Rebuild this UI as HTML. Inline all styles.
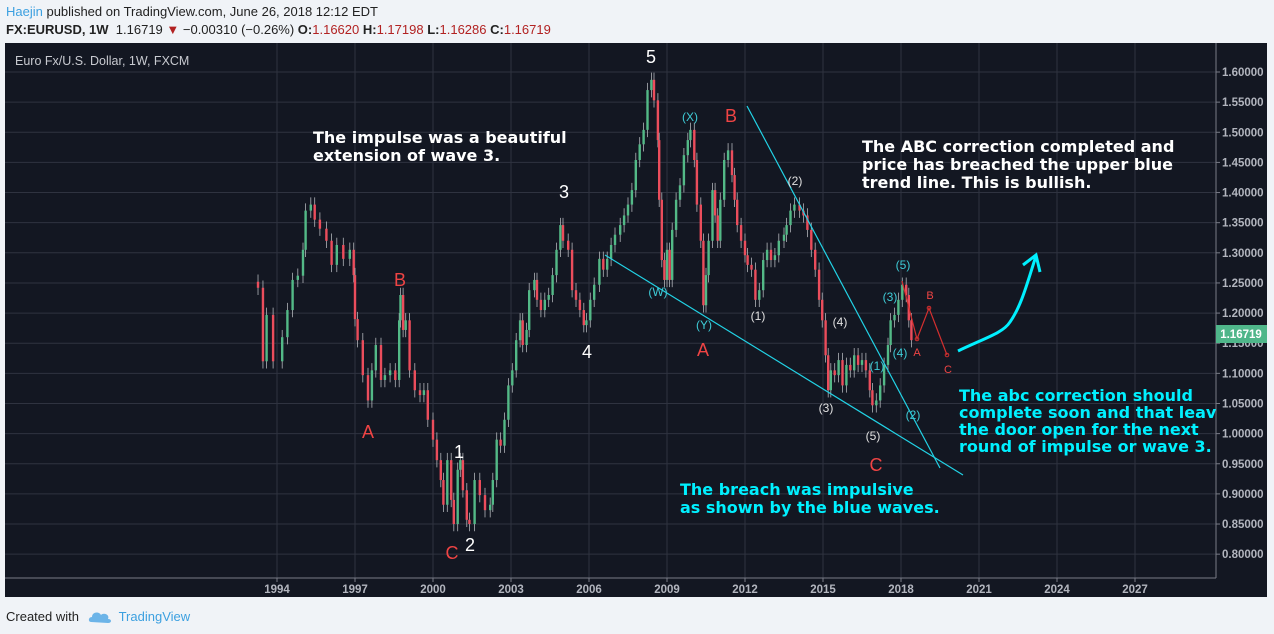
<!DOCTYPE html>
<html><head><meta charset="utf-8">
<style>
body{margin:0;width:1274px;height:634px;background:#f0f3f7;font-family:"Liberation Sans",sans-serif;overflow:hidden;position:relative}
.hdr{position:absolute;left:6px;font-size:13px;color:#222;white-space:nowrap}
.r{color:#b22222}
svg{position:absolute;left:0;top:0}
.ann{font-family:"DejaVu Sans",sans-serif;font-weight:bold;font-size:16px}
</style></head><body>
<div class="hdr" style="top:4px"><span style="color:#3ca0e0">Haejin</span> published on TradingView.com, June 26, 2018 12:12 EDT</div>
<div class="hdr" style="top:22px"><b>FX:EURUSD, 1W</b>&nbsp; 1.16719 <span class="r">▼</span> −0.00310 (−0.26%) <b>O:</b><span class="r">1.16620</span> <b>H:</b><span class="r">1.17198</span> <b>L:</b><span class="r">1.16286</span> <b>C:</b><span class="r">1.16719</span></div>
<div class="hdr" style="top:609px">Created with <span style="color:#3ca0e0;margin-left:36px">TradingView</span></div>
<svg width="1274" height="634" id="chart">
<rect x="5" y="43" width="1262" height="554" fill="#131722"/>
<g id="grid"></g><g id="candles"></g>
<line x1="1216" y1="43" x2="1216" y2="578" stroke="#787b86"/>
<line x1="5" y1="578" x2="1216" y2="578" stroke="#787b86"/>
<g id="axes" font-size="11.5" font-weight="bold" fill="#b2b5be" font-family="Liberation Sans,sans-serif"></g>
<text x="15" y="65" fill="#c8cad0" font-size="12.5">Euro Fx/U.S. Dollar, 1W, FXCM</text>
<line x1="747" y1="106" x2="940" y2="468" stroke="#22d3e6" stroke-width="1.2"/>
<line x1="605" y1="255" x2="963" y2="475" stroke="#22d3e6" stroke-width="1.2"/>
<polyline points="902,281 917,339 929,308 947,355" fill="none" stroke="#d32f2f" stroke-width="1.2"/>
<g fill="none" stroke="#d32f2f"><circle cx="917" cy="339" r="1.8"/><circle cx="929" cy="308" r="1.8"/><circle cx="947" cy="355" r="1.8"/></g>
<path d="M958,351 C985,338 1003,333 1010,322 C1022,305 1028,280 1036,256 M1023,265 L1036,255 L1040,272" fill="none" stroke="#00f0ff" stroke-width="3"/>
<g font-family="Liberation Sans,sans-serif">
<g fill="#fff" font-size="18" text-anchor="middle"><text x="651" y="63">5</text><text x="564" y="198">3</text><text x="587" y="358">4</text><text x="459" y="458">1</text><text x="470" y="551">2</text></g>
<g fill="#ef4444" font-size="18" text-anchor="middle"><text x="400" y="286">B</text><text x="368" y="438">A</text><text x="452" y="559">C</text><text x="731" y="122">B</text><text x="703" y="356">A</text><text x="876" y="471">C</text></g>
<g fill="#3ecbd6" font-size="12" text-anchor="middle"><text x="690" y="121">(X)</text><text x="658" y="296">(W)</text><text x="704" y="329">(Y)</text><text x="890" y="301">(3)</text><text x="903" y="269">(5)</text><text x="900" y="357">(4)</text><text x="877" y="370">(1)</text><text x="913" y="419">(2)</text></g>
<g fill="#e0e0e0" font-size="12" text-anchor="middle"><text x="758" y="320">(1)</text><text x="795" y="185">(2)</text><text x="840" y="326">(4)</text><text x="826" y="412">(3)</text><text x="873" y="440">(5)</text></g>
<g fill="#ef4444" font-size="11" text-anchor="middle"><text x="917" y="356">A</text><text x="930" y="299">B</text><text x="948" y="373">C</text></g>
</g>
<g class="ann" fill="#fff"><text x="313" y="143">The impulse was a beautiful</text><text x="313" y="161">extension of wave 3.</text></g>
<g class="ann" fill="#fff"><text x="862" y="152">The ABC correction completed and</text><text x="862" y="170">price has breached the upper blue</text><text x="862" y="188">trend line. This is bullish.</text></g>
<g class="ann" fill="#00f0ff"><text x="680" y="495">The breach was impulsive</text><text x="680" y="513">as shown by the blue waves.</text></g>
<svg x="0" y="0" width="1216" height="634"><g class="ann" fill="#00f0ff"><text x="959" y="401">The abc correction should</text><text x="959" y="418">complete soon and that leaves</text><text x="959" y="435">the door open for the next</text><text x="959" y="452">round of impulse or wave 3.</text></g></svg>
<rect x="1216" y="325" width="51" height="18" fill="#4fb68a"/>
<text x="1241" y="338" fill="#fff" font-size="11.5" font-weight="bold" text-anchor="middle" font-family="Liberation Sans,sans-serif">1.16719</text>
<g transform="translate(88,609)"><path d="M3,13 C0,13 0,8 4,8 C4,3 11,2 13,6 C16,3 22,6 20,10 C24,10 24,14 20,14 Z" fill="#6cb4e8"/></g>
</svg>
<script>
const years=[1993.27,1993.46,1993.6,1993.85,1994.2,1994.4,1994.6,1994.8,1995.0,1995.1,1995.3,1995.45,1995.65,1995.9,1996.1,1996.3,1996.55,1996.8,1996.95,1997.0,1997.1,1997.3,1997.5,1997.65,1997.8,1998.0,1998.15,1998.35,1998.55,1998.7,1998.75,1998.85,1998.95,1999.1,1999.3,1999.5,1999.65,1999.8,2000.0,2000.15,2000.3,2000.4,2000.55,2000.7,2000.8,2000.95,2001.05,2001.15,2001.3,2001.4,2001.6,2001.8,2002.0,2002.2,2002.3,2002.45,2002.6,2002.75,2002.9,2003.05,2003.2,2003.35,2003.45,2003.6,2003.7,2003.9,2004.0,2004.15,2004.3,2004.45,2004.6,2004.75,2004.9,2005.0,2005.2,2005.35,2005.5,2005.65,2005.8,2005.9,2006.05,2006.2,2006.4,2006.55,2006.7,2006.85,2007.0,2007.2,2007.35,2007.5,2007.65,2007.8,2007.95,2008.1,2008.25,2008.4,2008.5,2008.65,2008.7,2008.8,2008.9,2009.0,2009.1,2009.2,2009.35,2009.5,2009.65,2009.8,2009.9,2010.05,2010.15,2010.3,2010.4,2010.5,2010.6,2010.75,2010.85,2010.95,2011.05,2011.2,2011.35,2011.5,2011.6,2011.7,2011.85,2012.0,2012.1,2012.25,2012.4,2012.55,2012.7,2012.85,2013.0,2013.15,2013.3,2013.5,2013.6,2013.75,2013.9,2014.1,2014.25,2014.4,2014.55,2014.7,2014.85,2014.97,2015.1,2015.2,2015.3,2015.45,2015.6,2015.75,2015.9,2016.05,2016.2,2016.35,2016.5,2016.65,2016.8,2016.9,2017.05,2017.2,2017.35,2017.5,2017.6,2017.75,2017.9,2018.05,2018.2,2018.3,2018.4];
const closes=[1.242,1.12,1.197,1.12,1.16,1.205,1.255,1.262,1.305,1.37,1.38,1.355,1.34,1.32,1.28,1.313,1.29,1.305,1.263,1.19,1.155,1.097,1.055,1.105,1.147,1.089,1.097,1.105,1.089,1.188,1.23,1.172,1.188,1.105,1.072,1.064,1.072,1.023,0.99,0.956,0.923,0.882,0.956,0.89,0.85,0.94,0.956,0.906,0.857,0.85,0.923,0.898,0.873,0.882,0.923,0.99,0.98,1.023,1.08,1.105,1.155,1.188,1.147,1.172,1.238,1.255,1.222,1.205,1.222,1.23,1.263,1.305,1.346,1.32,1.305,1.238,1.222,1.205,1.18,1.188,1.222,1.247,1.29,1.272,1.29,1.313,1.33,1.346,1.362,1.38,1.404,1.454,1.48,1.504,1.57,1.587,1.553,1.487,1.388,1.288,1.255,1.305,1.255,1.338,1.388,1.412,1.462,1.487,1.504,1.454,1.38,1.32,1.213,1.263,1.32,1.404,1.362,1.32,1.388,1.454,1.47,1.429,1.388,1.346,1.32,1.296,1.28,1.272,1.222,1.238,1.288,1.305,1.288,1.296,1.32,1.33,1.346,1.37,1.38,1.37,1.362,1.338,1.305,1.272,1.222,1.188,1.13,1.072,1.105,1.097,1.122,1.08,1.114,1.105,1.13,1.114,1.122,1.105,1.072,1.047,1.055,1.08,1.114,1.147,1.188,1.197,1.222,1.247,1.23,1.188,1.155];
const priceTicks=[1.6,1.55,1.5,1.45,1.4,1.35,1.3,1.25,1.2,1.15,1.1,1.05,1.0,0.95,0.9,0.85,0.8];
const yearTicks=[1994,1997,2000,2003,2006,2009,2012,2015,2018,2021,2024,2027];
const NS='http://www.w3.org/2000/svg';
const xs=yr=>277+(yr-1994)*26;
const ys=p=>72+(1.6-p)*602.7;
function mk(tag,attrs,parent){const e=document.createElementNS(NS,tag);for(const k in attrs)e.setAttribute(k,attrs[k]);parent.appendChild(e);return e;}
const grid=document.getElementById('grid'),axes=document.getElementById('axes'),cg=document.getElementById('candles');
priceTicks.forEach(p=>{const y=ys(p);
 const l=mk('line',{x1:5,x2:1216,y1:y,y2:y,stroke:'#2f3340'},grid);
 
 
 mk('line',{x1:1216,x2:1220,y1:y,y2:y,stroke:'#787b86'},axes);
 const t=mk('text',{x:1222,y:y+4},axes);t.textContent=p.toFixed(5);
 
 
});
yearTicks.forEach(yr=>{const x=xs(yr);
 const l=mk('line',{x1:x,x2:x,y1:43,y2:578,stroke:'#2f3340'},grid);
 
 
 mk('line',{x1:x,x2:x,y1:578,y2:582,stroke:'#787b86'},axes);
 const t=mk('text',{x:x,y:593,'text-anchor':'middle'},axes);t.textContent=yr;
 
 
});
closes.forEach((c,i)=>{
 const o=i?closes[i-1]:c+0.01;const x=xs(years[i]);
 const hi=Math.max(o,c)+0.012,lo=Math.min(o,c)-0.012;
 const w=mk('line',{x1:x,x2:x,y1:ys(hi),y2:ys(lo),stroke:'#b0b3b8','stroke-width':0.8},cg);
 
 
 const top=ys(Math.max(o,c)),h=Math.max(1,Math.abs(ys(o)-ys(c)));
 const r=mk('rect',{x:x-1.2,y:top,width:2.4,height:h,fill:c>=o?'#53b987':'#eb4d5c'},cg);
 
 
});
</script>
</body></html>
